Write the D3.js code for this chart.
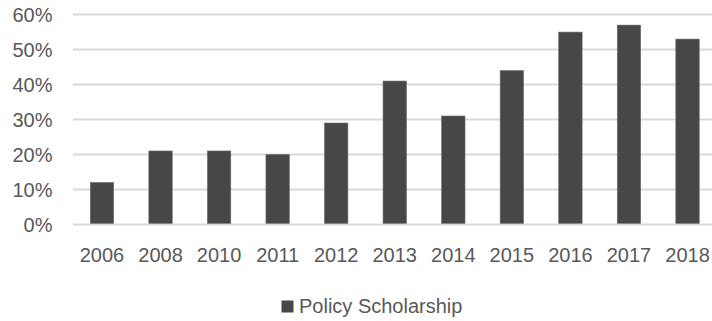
<!DOCTYPE html>
<html>
<head>
<meta charset="utf-8">
<script src="https://cdn.jsdelivr.net/npm/d3@7/dist/d3.min.js"></script>
<style>
  html, body { margin: 0; padding: 0; background: #ffffff; }
  svg { display: block; }
</style>
</head>
<body>
<svg id="chart" width="712" height="321"></svg>
<script>
const categories = ["2006","2008","2010","2011","2012","2013","2014","2015","2016","2017","2018"];
const values = [0.12, 0.21, 0.21, 0.20, 0.29, 0.41, 0.31, 0.44, 0.55, 0.57, 0.53];
const yTicks = [0, 0.1, 0.2, 0.3, 0.4, 0.5, 0.6];
const seriesName = "Policy Scholarship";

const svg = d3.select("#chart");
const font = "'Liberation Sans', Arial, sans-serif";
const textColor = "#595959";

const x = d3.scaleBand().domain(categories).range([72.7, 716.8]).paddingInner(0.6).paddingOuter(0.3);
const y = d3.scaleLinear().domain([0, 0.6]).range([224.4, 14.6]);

// gridlines
svg.append("g").selectAll("line").data(yTicks).join("line")
  .attr("x1", 73).attr("x2", 712)
  .attr("y1", d => y(d)).attr("y2", d => y(d))
  .attr("stroke", "#d9d9d9").attr("stroke-width", 2);

// y axis labels
const yAxis = d3.axisLeft(y).tickValues(yTicks).tickFormat(d3.format(".0%")).tickSize(0).tickPadding(0);
const gy = svg.append("g").attr("transform", "translate(52.5,0)").call(yAxis);
gy.select(".domain").remove();
gy.selectAll("text").attr("font-family", font).attr("font-size", 20).attr("fill", textColor).attr("dy", "0.34em");

// bars
svg.append("g").selectAll("rect").data(categories).join("rect")
  .attr("x", d => x(d))
  .attr("width", x.bandwidth())
  .attr("y", (d, i) => y(values[i]))
  .attr("height", (d, i) => y(0) - 1 - y(values[i]))
  .attr("fill", "#474747")
  .attr("stroke", "#6e6e6e").attr("stroke-width", 0.6);

// x axis labels
const xAxis = d3.axisBottom(x).tickSize(0).tickPadding(0);
const gx = svg.append("g").attr("transform", "translate(0,247)").call(xAxis);
gx.select(".domain").remove();
gx.selectAll("text").attr("font-family", font).attr("font-size", 20).attr("fill", textColor).attr("dy", "0.76em");

// legend
const lg = svg.append("g");
lg.append("rect").attr("x", 281.5).attr("y", 300.5).attr("width", 12).attr("height", 12).attr("fill", "#474747");
lg.append("text").attr("x", 299).attr("y", 313.3).text(seriesName)
  .attr("font-family", font).attr("font-size", 20).attr("fill", textColor);
</script>
</body>
</html>
